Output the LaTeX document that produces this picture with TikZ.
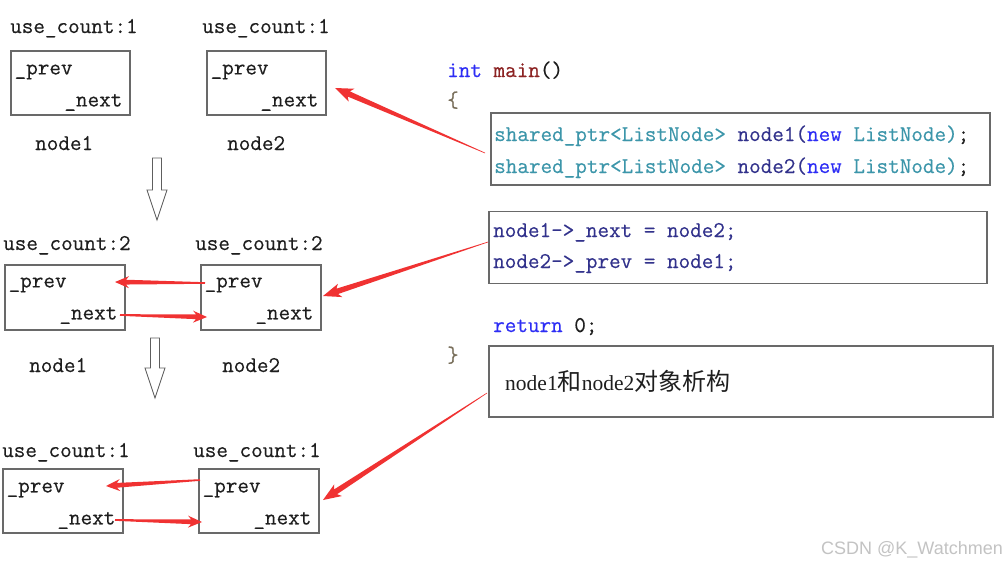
\documentclass[tikz,border=0pt]{standalone}
\usepackage{fontspec}
\usetikzlibrary{calc}
\setmonofont{Latin Modern Mono}[FakeBold=0.35]
\newfontfamily\cjk{Noto Sans CJK SC}
\newfontfamily\serifl{Liberation Serif}
\newfontfamily\wmfont{Liberation Sans}
\definecolor{kw}{RGB}{45,45,245}
\definecolor{tealc}{RGB}{60,150,170}
\definecolor{navyc}{RGB}{50,50,140}
\definecolor{mainc}{RGB}{140,35,35}
\definecolor{txt}{RGB}{30,30,30}
\definecolor{boxc}{RGB}{105,105,105}
\definecolor{arrowred}{RGB}{240,50,50}
\definecolor{wmc}{RGB}{195,195,195}
\definecolor{bracec}{RGB}{120,110,90}
\newcommand\monof{\ttfamily\fontsize{22.5}{27}\selectfont}
% tapered arrow: #1 tail, #2 tip, #3 tail half width, #4 shaft half width, #5 head length, #6 head half width
\newcommand\tarrow[6]{%
  \path ($(#2)!#5!(#1)$) coordinate (tb);
  \path ($(tb)!3pt!(#2)$) coordinate (tn);
  \fill[arrowred] ($(#1)!#3!90:(#2)$) -- ($(tn)!#4!90:(#2)$) -- ($(tb)!#6!90:(#2)$) -- (#2)
     -- ($(tb)!#6!-90:(#2)$) -- ($(tn)!#4!-90:(#2)$) -- ($(#1)!#3!-90:(#2)$) -- cycle;
}
\tikzset{
  lbl/.style={font=\monof, text=txt, inner sep=0pt, anchor=base west},
  nodebox/.style={draw=boxc, line width=1.1pt, rectangle, minimum width=119pt, minimum height=64pt, inner sep=0pt},
  codebox/.style={draw=boxc, line width=1.1pt, rectangle, inner sep=0pt},
  hollow/.style={draw=boxc!90!black, line width=0.9pt, fill=white},
}
\begin{document}
\begin{tikzpicture}[x=1pt,y=-1pt]
\useasboundingbox[fill=white] (0,0) rectangle (1008,566);

% ---------- row 1 ----------
\node[nodebox] (n1a) at (70.5,83) {};
\node[nodebox] (n2a) at (266.5,83) {};
\node[lbl] (u1a) at (10,33) {use\_count:1};
\node[lbl] (u2a) at (202,33) {use\_count:1};
\node[lbl] (p1a) at ($(n1a.north west)+(4,24)$) {\_prev};
\node[lbl,anchor=base east] (x1a) at ($(n1a.north east)+(-8,56)$) {\_next};
\node[lbl] (p2a) at ($(n2a.north west)+(4,24)$) {\_prev};
\node[lbl,anchor=base east] (x2a) at ($(n2a.north east)+(-8,56)$) {\_next};
\node[lbl] (l1a) at (35,150) {node1};
\node[lbl] (l2a) at (227,150) {node2};

% hollow arrow 1
\draw[hollow] (152.5,158) -- (161.5,158) -- (161.5,190) -- (167,190) -- (157,220) -- (147,190) -- (152.5,190) -- cycle;

% ---------- row 2 ----------
\node[nodebox,minimum width=120pt,minimum height=65pt] (n1b) at (65,297.5) {};
\node[nodebox,minimum width=120pt,minimum height=65pt] (n2b) at (261,297.5) {};
\node[lbl] (u1b) at (3,250) {use\_count:2};
\node[lbl] (u2b) at (195,250) {use\_count:2};
\node[lbl] (p1b) at ($(n1b.north west)+(4,23)$) {\_prev};
\node[lbl,anchor=base east] (x1b) at ($(n1b.north east)+(-8,55)$) {\_next};
\node[lbl] (p2b) at ($(n2b.north west)+(4,23)$) {\_prev};
\node[lbl,anchor=base east] (x2b) at ($(n2b.north east)+(-8,55)$) {\_next};
\node[lbl] (l1b) at (29,372) {node1};
\node[lbl] (l2b) at (222,372) {node2};

% hollow arrow 2
\draw[hollow] (150.5,338) -- (159.5,338) -- (159.5,368) -- (165,368) -- (155,398) -- (145,368) -- (150.5,368) -- cycle;

% ---------- row 3 ----------
\node[nodebox,minimum width=120pt] (n1c) at (63,501) {};
\node[nodebox,minimum width=120pt] (n2c) at (259,501) {};
\node[lbl] (u1c) at (2,457) {use\_count:1};
\node[lbl] (u2c) at (193,457) {use\_count:1};
\node[lbl] (p1c) at ($(n1c.north west)+(4,24)$) {\_prev};
\node[lbl,anchor=base east] (x1c) at ($(n1c.north east)+(-8,56)$) {\_next};
\node[lbl] (p2c) at ($(n2c.north west)+(4,24)$) {\_prev};
\node[lbl,anchor=base east] (x2c) at ($(n2c.north east)+(-8,56)$) {\_next};

% ---------- code ----------
\node[lbl] (intmain) at (447,77) {\textcolor{kw}{int} \textcolor{mainc}{main}()};
\node[lbl,text=bracec] (lbrace) at (447,107) {\{};
\node[codebox,minimum width=499pt,minimum height=72pt] (code1) at (740.5,149) {};
\node[lbl] (c1l1) at (494,141) {\textcolor{tealc}{shared\_ptr<ListNode>} \textcolor{navyc}{node1(}\textcolor{kw}{new} \textcolor{tealc}{ListNode)};};
\node[lbl] (c1l2) at (494,173) {\textcolor{tealc}{shared\_ptr<ListNode>} \textcolor{navyc}{node2(}\textcolor{kw}{new} \textcolor{tealc}{ListNode)};};
\node[codebox,minimum width=498pt,minimum height=72pt] (code2) at (738,247.5) {};
\node[lbl,text=navyc] (c2l1) at (493,237) {node1->\_next = node2;};
\node[lbl,text=navyc] (c2l2) at (493,268) {node2->\_prev = node1;};
\node[lbl] (ret) at (493,332) {\textcolor{kw}{return} 0;};
\node[lbl,text=bracec] (rbrace) at (447,362) {\}};
\node[codebox,minimum width=504pt,minimum height=71pt] (code3) at (741,381.5) {};
\node[lbl] (c3l1) at (505,390) {\serifl\fontsize{21.5}{25}\selectfont node1{\cjk\fontsize{24}{28}\selectfont 和}node2{\cjk\fontsize{24}{28}\selectfont 对象析构}};

% ---------- red arrows ----------
\coordinate (t1) at (485,153);
\coordinate (h1) at (335,88);
\coordinate (t2) at (488,242);
\coordinate (h2) at (323,296);
\coordinate (t3) at (487,393);
\coordinate (h3) at (323,500);
\tarrow{t1}{h1}{0.3pt}{2.8pt}{18pt}{7pt}
\tarrow{t2}{h2}{0.3pt}{2.8pt}{18pt}{7pt}
\tarrow{t3}{h3}{0.3pt}{2.8pt}{18pt}{7pt}

\coordinate (pt2) at (205,283);
\coordinate (ph1) at (115,282);
\coordinate (nt1) at (120,315);
\coordinate (nh2) at (207,317);
\tarrow{pt2}{ph1}{0.8pt}{2.4pt}{14pt}{6pt}
\tarrow{nt1}{nh2}{0.8pt}{2.4pt}{14pt}{6pt}

\coordinate (pt2c) at (200,480);
\coordinate (ph1c) at (106,486);
\coordinate (nt1c) at (115,520);
\coordinate (nh2c) at (202,522);
\tarrow{pt2c}{ph1c}{0.8pt}{2.4pt}{14pt}{6pt}
\tarrow{nt1c}{nh2c}{0.8pt}{2.4pt}{14pt}{6pt}

% watermark
\node[font=\wmfont\fontsize{18}{22}\selectfont, text=wmc, inner sep=0pt, anchor=base east] (wm) at (1003,554) {CSDN @K\_Watchmen};
\end{tikzpicture}
\end{document}
